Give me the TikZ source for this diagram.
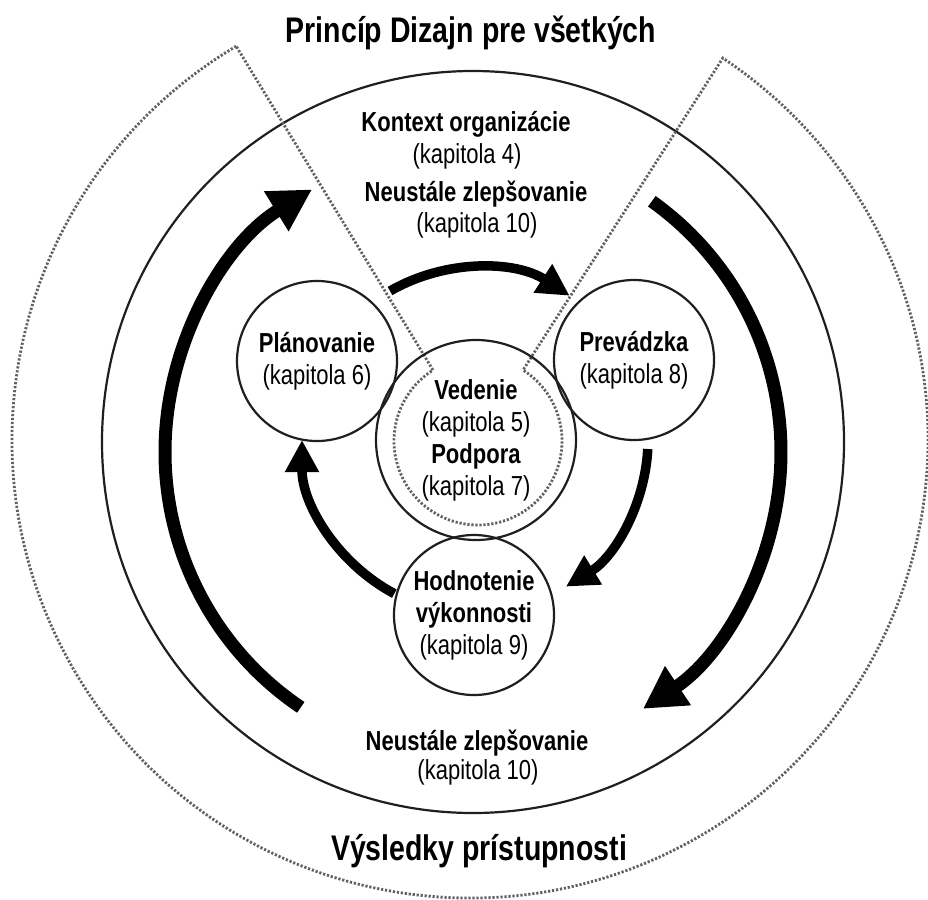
\documentclass[tikz,border=0pt]{standalone}
\usepackage{fontspec}
\setmainfont{Liberation Sans}[FakeStretch=0.8]
\usetikzlibrary{arrows.meta,calc}
\begin{document}
\begin{tikzpicture}[x=1pt,y=-1pt,
  ring/.style={draw=black!88, line width=2.2pt},
  dotline/.style={draw=black!62, line width=2.8pt, dash pattern=on 2.2pt off 1.8pt},
  bigarrow/.style={line width=13pt, -{Triangle[length=42pt,width=44pt]}},
  smallarrow/.style={line width=9.5pt, -{Triangle[length=32pt,width=32pt]}},
  bubble/.style={circle, ring, minimum size=160pt, inner sep=0pt, align=center, font=\fontsize{27.5}{32}\selectfont},
  lbl/.style={font=\fontsize{27.5}{32}\selectfont, anchor=base},
  ttl/.style={font=\fontsize{35.6}{40}\selectfont\bfseries, anchor=base},
]
\useasboundingbox (0,0) rectangle (928,899);
\coordinate (oc) at (473,442);
\coordinate (dc) at (470,440);
\coordinate (ic) at (478,441);
\coordinate (bc) at (473,452);
\coordinate (sc) at (476,440);

% outer solid ring
\draw[ring] (oc) circle[radius=371];

% dotted keyhole boundary
\draw[dotline] ($(dc)+(-120.7:458)$) arc[start angle=-120.7, end angle=-416.5, radius=458]
  -- ($(ic)+(-57.6:84)$) arc[start angle=-57.6, end angle=237.6, radius=84] -- cycle;

% bubbles
\node[bubble] (plan) at (317,361) {\textbf{Plánovanie}\\(kapitola 6)};
\node[bubble] (prev) at (634,360) {\textbf{Prevádzka}\\(kapitola 8)};
\node[bubble, minimum size=200pt] (lead) at (476,440) {\textbf{Vedenie}\\(kapitola 5)\\\textbf{Podpora}\\(kapitola 7)};
\node[bubble] (eval) at (474,615) {\textbf{Hodnotenie}\\\textbf{výkonnosti}\\(kapitola 9)};

% big cycle arrows
\draw[bigarrow] ($(bc)+(-236:308)$) arc[start angle=-236, end angle=-121.5, radius=308];
\draw[bigarrow] ($(bc)+(-54.5:308)$) arc[start angle=-54.5, end angle=56.5, radius=308];

% inner cycle arrows
\draw[smallarrow] ($(sc)+(-120:172)$) arc[start angle=-120, end angle=-57, radius=172];
\draw[smallarrow] ($(sc)+(3:172)$) arc[start angle=3, end angle=58.5, radius=172];
\draw[smallarrow] ($(sc)+(118:174)$) arc[start angle=118, end angle=180, radius=174];

% texts
\node[ttl] (t1) at (471,42) {Princíp Dizajn pre všetkých};
\node[lbl] (ctx) at (466,131) {\textbf{Kontext organizácie}};
\node[lbl] (ctxk) at (467,163) {(kapitola 4)};
\node[lbl] (imp1) at (476,201) {\textbf{Neustále zlepšovanie}};
\node[lbl] (imp1k) at (477,232) {(kapitola 10)};
\node[lbl] (imp2) at (477,750) {\textbf{Neustále zlepšovanie}};
\node[lbl] (imp2k) at (478,779) {(kapitola 10)};
\node[ttl] (t2) at (479,860) {Výsledky prístupnosti};
\end{tikzpicture}
\end{document}
